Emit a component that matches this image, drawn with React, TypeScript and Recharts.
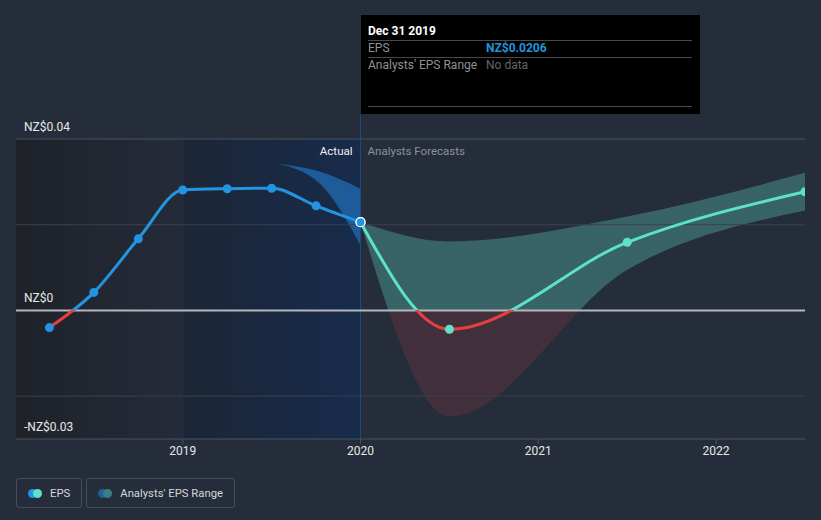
import React from "react";
import {
  ComposedChart,
  Line,
  Area,
  XAxis,
  YAxis,
  ReferenceLine,
  ReferenceArea,
} from "recharts";

// past reported EPS (quarterly, fractional years)
const pastDates = [2018.25, 2018.5, 2018.75, 2019.0, 2019.25, 2019.5, 2019.75, 2020.0];
const pastEps = [-0.004, 0.0042, 0.0167, 0.0281, 0.0284, 0.0285, 0.0244, 0.0206];

// old analyst range shown in the actual period
const pastRangeDates = [2019.53, 2019.77, 2020.0];
const pastRangeLow = [0.0342, 0.0296, 0.0152];
const pastRangeHigh = [0.0342, 0.0324, 0.0284];

// analyst forecasts
const forecastDates = [2020.0, 2020.5, 2021.5, 2022.5];
const forecastEps = [0.0206, -0.0044, 0.0159, 0.0277];
const forecastLow = [0.0206, -0.0247, 0.0095, 0.0233];
const forecastHigh = [0.0206, 0.0161, 0.0219, 0.0321];

const yearTicks = [2019, 2020, 2021, 2022];
const gridValues = [0.04, 0.02, -0.02];
const yLabelValues = [0.04, 0, -0.03];
const yLabelText = ["NZ$0.04", "NZ$0", "-NZ$0.03"];

const pastData = pastDates.map((d, i) => ({ date: d, eps: pastEps[i] }));
const pastRangeData = pastRangeDates.map((d, i) => ({
  date: d,
  range: [pastRangeLow[i], pastRangeHigh[i]],
}));
const forecastData = forecastDates.map((d, i) => ({
  date: d,
  eps: forecastEps[i],
  range: [forecastLow[i], forecastHigh[i]],
}));

const W = 821;
const H = 520;
const M = { top: 139, right: 16, bottom: 51, left: 16 };
const Y_MIN = -0.03;
const Y_MAX = 0.04;
const plotTop = M.top;
const plotBottom = H - M.bottom - 30;
const zeroOff = Y_MAX / (Y_MAX - Y_MIN);

const FONT = "Roboto, 'Open Sans', sans-serif";

const YLabel = ({ viewBox, text }: any) => (
  <text x={24} y={(viewBox?.y ?? 0) - 8} fill="#e8e8e8" fontSize={12} fontFamily={FONT}>
    {text}
  </text>
);

const SplitLabel = ({ viewBox }: any) => {
  const x = viewBox?.x ?? 0;
  return (
    <g fontFamily={FONT} fontSize={11.5}>
      <text x={x - 8} y={plotTop + 16} textAnchor="end" fill="#f0f0f0">
        Actual
      </text>
      <text x={x + 7} y={plotTop + 16} fill="#8b9099">
        Analysts Forecasts
      </text>
    </g>
  );
};

const LegendItem = ({ label, c1, c2 }: { label: string; c1: string; c2: string }) => (
  <div
    style={{
      display: "flex",
      alignItems: "center",
      height: 28,
      padding: "0 11px 0 11px",
      border: "1px solid #464d59",
      borderRadius: 3,
      marginRight: 4,
      color: "#d4d6da",
      fontSize: 11.3,
    }}
  >
    <span style={{ position: "relative", width: 14, height: 9, marginRight: 8 }}>
      <span style={{ position: "absolute", left: 0, width: 9, height: 9, borderRadius: 5, background: c1 }} />
      <span style={{ position: "absolute", left: 5, width: 9, height: 9, borderRadius: 5, background: c2 }} />
    </span>
    {label}
  </div>
);

export default function App() {
  return (
    <div
      style={{
        position: "relative",
        width: W,
        height: H,
        background: "#262d3a",
        fontFamily: FONT,
        overflow: "hidden",
      }}
    >
      <style>{`body{margin:0;overflow:hidden}`}</style>
      <ComposedChart width={W} height={H} margin={M}>
        <defs>
          <linearGradient id="pastBg" x1="0" y1="0" x2="1" y2="0">
            <stop offset="0%" stopColor="#1d2026" stopOpacity={0.9} />
            <stop offset="100%" stopColor="#232936" stopOpacity={0.6} />
          </linearGradient>
          <linearGradient id="actualBg" x1="0" y1="0" x2="1" y2="0">
            <stop offset="0%" stopColor="#1c2636" />
            <stop offset="100%" stopColor="#172b4b" />
          </linearGradient>
          <linearGradient id="pastStroke" gradientUnits="userSpaceOnUse" x1="0" y1={plotTop} x2="0" y2={plotBottom}>
            <stop offset={zeroOff} stopColor="#2394df" />
            <stop offset={zeroOff} stopColor="#e5403f" />
          </linearGradient>
          <linearGradient id="foreStroke" gradientUnits="userSpaceOnUse" x1="0" y1={plotTop} x2="0" y2={plotBottom}>
            <stop offset={zeroOff} stopColor="#5de2c9" />
            <stop offset={zeroOff} stopColor="#e5403f" />
          </linearGradient>
          <linearGradient id="bandFill" gradientUnits="userSpaceOnUse" x1="0" y1={plotTop} x2="0" y2={plotBottom}>
            <stop offset={zeroOff} stopColor="#4a9a93" stopOpacity={0.5} />
            <stop offset={zeroOff} stopColor="#6e3340" stopOpacity={0.4} />
          </linearGradient>
        </defs>

        <XAxis
          type="number"
          dataKey="date"
          domain={[2018.062, 2022.5]}
          allowDataOverflow
          ticks={yearTicks}
          tick={{ fill: "#e8e8e8", fontSize: 12, fontFamily: FONT }}
          tickFormatter={(v) => String(v)}
          axisLine={{ stroke: "#4b525e", strokeWidth: 1 }}
          tickLine={{ stroke: "#4b525e" }}
          tickSize={5}
          height={30}
        />
        <YAxis type="number" domain={[Y_MIN, Y_MAX]} allowDataOverflow hide />

        <ReferenceArea x1={2018.062} x2={2019} y1={Y_MIN} y2={Y_MAX} fill="url(#pastBg)" fillOpacity={1} stroke="none" />
        <ReferenceArea x1={2019} x2={2020} y1={Y_MIN} y2={Y_MAX} fill="url(#actualBg)" fillOpacity={1} stroke="none" />

        {gridValues.map((v) => (
          <ReferenceLine
            key={v}
            y={v}
            stroke={v === Y_MAX ? "#4b525e" : "#3a414d"}
            strokeWidth={1}
          />
        ))}
        {yLabelValues.map((v, i) => (
          <ReferenceLine
            key={"l" + v}
            y={v}
            stroke="none"
            label={<YLabel text={yLabelText[i]} />}
          />
        ))}
        <ReferenceLine x={2019} stroke="#1c3050" strokeWidth={1} />
        <ReferenceLine
          segment={[
            { x: 2020, y: 0.0456 },
            { x: 2020, y: Y_MIN },
          ]}
          ifOverflow="visible"
          stroke="#1f4a80"
          strokeWidth={1}
        />
        <ReferenceLine x={2020} stroke="none" label={<SplitLabel />} />

        <Area
          data={forecastData}
          dataKey="range"
          type="monotone"
          fill="url(#bandFill)"
          fillOpacity={1}
          stroke="none"
          isAnimationActive={false}
        />
        <Area
          data={pastRangeData}
          dataKey="range"
          type="monotone"
          fill="#1f64a8"
          fillOpacity={0.85}
          stroke="none"
          isAnimationActive={false}
        />
        <ReferenceLine y={0} stroke="#b3b6bb" strokeWidth={2} />

        <Line
          data={pastData}
          dataKey="eps"
          type="monotone"
          stroke="url(#pastStroke)"
          strokeWidth={3}
          dot={(p: any) =>
            p.index === pastData.length - 1 ? (
              <circle key={p.index} cx={p.cx} cy={p.cy} r={4.5} fill="#2394df" stroke="#ffffff" strokeWidth={1.2} />
            ) : (
              <circle key={p.index} cx={p.cx} cy={p.cy} r={4.5} fill="#2394df" stroke="none" />
            )
          }
          isAnimationActive={false}
        />
        <Line
          data={forecastData}
          dataKey="eps"
          type="monotone"
          stroke="url(#foreStroke)"
          strokeWidth={3}
          dot={(p: any) =>
            p.index === 0 ? (
              <circle key={p.index} cx={p.cx} cy={p.cy} r={4.5} fill="#2394df" stroke="#ffffff" strokeWidth={1.2} />
            ) : (
              <circle key={p.index} cx={p.cx} cy={p.cy} r={4.5} fill="#5de2c9" stroke="none" />
            )
          }
          isAnimationActive={false}
        />
      </ComposedChart>

      <div
        style={{
          position: "absolute",
          left: 361,
          top: 15,
          width: 339,
          height: 99,
          background: "#000",
          fontSize: 12,
        }}
      >
        <div style={{ position: "absolute", left: 7, top: 9, color: "#fff", fontWeight: 700 }}>Dec 31 2019</div>
        <div style={{ position: "absolute", left: 7, right: 8, top: 25, borderTop: "1px solid #4a4a4a" }} />
        <div style={{ position: "absolute", left: 7, top: 26, color: "#8e9298" }}>EPS</div>
        <div style={{ position: "absolute", left: 125, top: 26, color: "#2394df", fontWeight: 700 }}>NZ$0.0206</div>
        <div style={{ position: "absolute", left: 7, right: 8, top: 42, borderTop: "1px solid #4a4a4a" }} />
        <div style={{ position: "absolute", left: 7, top: 43, color: "#8e9298" }}>Analysts' EPS Range</div>
        <div style={{ position: "absolute", left: 125, top: 43, color: "#62666c" }}>No data</div>
        <div style={{ position: "absolute", left: 7, right: 8, top: 91, borderTop: "1px solid #4a4a4a" }} />
      </div>

      <div style={{ position: "absolute", left: 16, top: 478, display: "flex" }}>
        <LegendItem label="EPS" c1="#2394df" c2="#5de2c9" />
        <LegendItem label="Analysts' EPS Range" c1="#1f5f9a" c2="#3b7f80" />
      </div>
    </div>
  );
}
